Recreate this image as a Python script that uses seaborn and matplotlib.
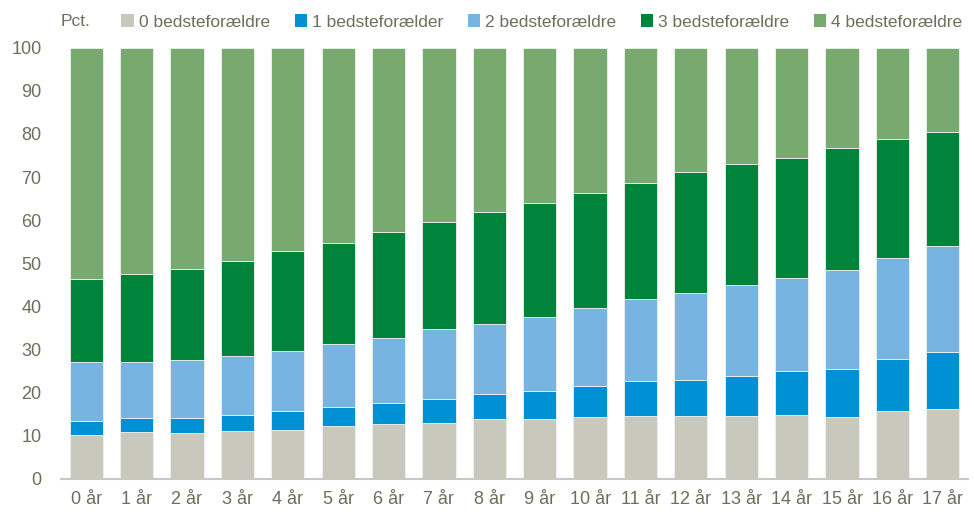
import numpy as np
import pandas as pd
import matplotlib
matplotlib.use("Agg")
import matplotlib.pyplot as plt
import seaborn as sns
from matplotlib.patches import Patch

categories = [f"{i} år" for i in range(18)]
g0 = [10.2, 10.7, 10.5, 11.0, 11.3, 12.1, 12.6, 13.0, 13.7, 13.9, 14.2, 14.6, 14.6, 14.6, 14.8, 14.3, 15.7, 16.2]
g1 = [3.2, 3.4, 3.6, 3.8, 4.3, 4.5, 5.0, 5.5, 6.0, 6.4, 7.2, 8.0, 8.3, 9.2, 10.1, 11.1, 12.0, 13.1]
g2 = [13.7, 13.0, 13.5, 13.6, 14.0, 14.6, 15.1, 16.1, 16.2, 17.1, 18.2, 19.0, 20.1, 21.1, 21.7, 23.1, 23.6, 24.6]
g3 = [19.3, 20.4, 21.1, 22.1, 23.3, 23.5, 24.6, 24.9, 26.0, 26.5, 26.7, 27.0, 28.1, 28.1, 27.8, 28.2, 27.5, 26.5]
g4 = [53.6, 52.5, 51.3, 49.5, 47.1, 45.3, 42.7, 40.5, 38.1, 36.1, 33.7, 31.4, 28.9, 27.0, 25.6, 23.3, 21.2, 19.6]
series_names = ["0 bedsteforældre", "1 bedsteforælder", "2 bedsteforældre",
                "3 bedsteforældre", "4 bedsteforældre"]
yticks = list(range(0, 101, 10))

colors = ["#C8C8BC", "#0090D4", "#78B4E2", "#00833A", "#78AA70"]
text_color = "#6E6E5C"

sns.set_theme(style="white")
plt.rcParams["font.family"] = ["Liberation Sans", "DejaVu Sans"]

fig = plt.figure(figsize=(9.74, 5.14), dpi=100)
ax = fig.add_axes([61/974, 35.5/514, (968-61)/974, (478.5-47.8)/514])

bottom = np.zeros(len(categories))
for name, vals, c in zip(series_names, [g0, g1, g2, g3, g4], colors):
    df = pd.DataFrame({"cat": categories, "val": vals})
    sns.barplot(data=df, x="cat", y="val", ax=ax, color=c, width=0.66,
                bottom=bottom, edgecolor="#EEF2EE", linewidth=0.6,
                saturation=1, errorbar=None, order=categories)
    bottom = bottom + np.array(vals)

ax.set_xlim(-0.5, 17.5)
ax.set_ylim(0, 100)
ax.set_yticks(yticks)
ax.set_xlabel("")
ax.set_ylabel("")
for s in ["top", "right", "left"]:
    ax.spines[s].set_visible(False)
ax.spines["bottom"].set_color("#C8C8C0")
ax.spines["bottom"].set_linewidth(1.5)
ax.tick_params(axis="both", length=0, labelsize=13, labelcolor=text_color)
ax.tick_params(axis="y", pad=14)
ax.tick_params(axis="x", pad=9)

fig.text(61/974, 1 - 22/514, "Pct.", fontsize=12.5, color=text_color, va="center", ha="left")
handles = [Patch(facecolor=c, edgecolor="none") for c in colors]
fig.legend(handles, series_names, loc="center", bbox_to_anchor=(542/974, 1 - 22/514),
           ncol=5, frameon=False, fontsize=12.5, labelcolor=text_color,
           handlelength=0.7, handleheight=0.7, handletextpad=0.3,
           columnspacing=1.42, borderpad=0, borderaxespad=0)

fig.savefig("out.png", dpi=100)
